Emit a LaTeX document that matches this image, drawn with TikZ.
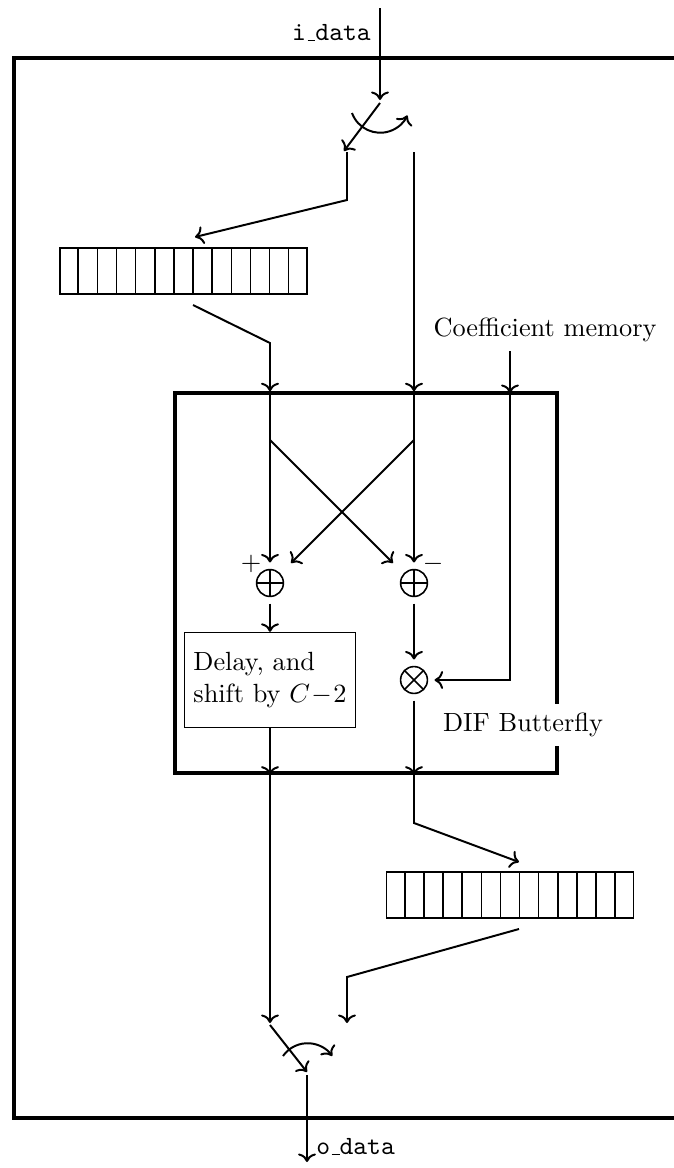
\documentclass[tikz,border=0pt]{standalone}
\usepackage{amsmath}
\usepackage{tikz}
\usetikzlibrary{
  arrows.meta, % for the To arrow tip
  calc, % to split the registers into cells
}
% short underscore for the port names
\newcommand{\usc}{\kern.06em\vbox{\hrule width.3em}}
\tikzset{
  conn/.style={ % style for the connections
    -{To}, % curved barb arrow tip
    line width=0.75pt,
  },
  stageframe/.style={ % frame around the whole stage, open to the right
    line width=1.7pt,
  },
  bflybox/.style={ % frame around the butterfly
    rectangle,draw,line width=1.3pt,
    inner sep=0pt,
    minimum width=145.2pt, minimum height=144.4pt,
  },
  reg/.style={ % shift register, split into cells afterwards
    rectangle,draw,semithick,
    inner sep=0pt, % no padding, the size is fixed
    minimum width=93.9pt, minimum height=17.5pt,
  },
  op/.style={ % circle of the adders and the multiplier
    circle,draw,semithick,
    minimum size=10.2pt, inner sep=0pt,
    outer sep=2.7pt, % gap between the arrow tips and the circle
  },
  adder/.style={ % circle with a plus
    op,
    path picture={\draw[semithick] (path picture bounding box.north) -- (path picture bounding box.south)
      (path picture bounding box.west) -- (path picture bounding box.east);},
  },
  mult/.style={ % circle with a cross
    op,
    path picture={\draw[semithick] (path picture bounding box.north west) -- (path picture bounding box.south east)
      (path picture bounding box.north east) -- (path picture bounding box.south west);},
  },
  delaybox/.style={ % delay block
    rectangle,draw,semithick,
    align=left,
    inner xsep=3.4pt, minimum height=36pt,
  },
  port/.style={ % input/output names
    font=\ttfamily,
  },
}
\begin{document}
\begin{tikzpicture}[x=0.38pt,y=-0.38pt]
  \useasboundingbox (0,0) rectangle (673,1168);
  \draw[stageframe] (700,58) -- (14,58) -- (14,1118) -- (700,1118);

  % input and first switch
  \coordinate (din) at (380,8);
  \coordinate (sw1) at (380,100);
  \node[port,left] (ilabel) at (380,33) {i\usc data};
  \draw[conn] (din) -- (sw1);
  \coordinate (sw1a) at (380,103);
  \coordinate (sw1b) at (344,151);
  \draw[conn] (sw1a) -- (sw1b);
  \coordinate (sw1arc) at (352,113);
  \draw[conn] (sw1arc) arc[start angle=200,end angle=335,radius=11.4pt];

  % left branch through the first register
  \coordinate (l0) at (347,152);
  \coordinate (l1) at (347,200);
  \coordinate (reg1in) at (195,237);
  \draw[conn] (l0) -- (l1) -- (reg1in);
  \node[reg] (reg1) at (183.5,271) {};
  \coordinate (reg1out) at (193,305);
  \coordinate (l2) at (270,343);

  % right branch
  \coordinate (r0) at (414,152);

  % butterfly
  \node[bflybox] (bfly) at (366,583) {};
  \coordinate (bflyA) at (bfly.north -| l2);
  \coordinate (bflyB) at (bfly.north -| r0);
  \coordinate (bflyC) at (510,393);
  \draw[conn] (reg1out) -- (l2) -- (bflyA);
  \draw[conn] (r0) -- (bflyB);

  \node (coef) at (545,330) {Coefficient memory};
  \draw[conn] (coef.south -| bflyC) -- (bflyC);

  \node[adder] (add1) at (270,583) {};
  \node[adder] (add2) at (414,583) {};
  \node (plus) at (251,564) {$+$};
  \node (minus) at (433,564) {$-$};
  \coordinate (x1) at (270,440);
  \coordinate (x2) at (414,440);
  \coordinate (x1end) at (393,563);
  \coordinate (x2end) at (291,563);
  \draw[conn] (bflyA) -- (add1);
  \draw[conn] (bflyB) -- (add2);
  \draw[conn] (x1) -- (x1end);
  \draw[conn] (x2) -- (x2end);

  \node[delaybox] (delay) at (270,680) {Delay, and\\shift by $C\!-\!2$};
  \node[mult] (mul) at (414,680) {};
  \draw[conn] (add1) -- (delay);
  \draw[conn] (add2) -- (mul);
  \draw[conn] (bflyC) |- (mul);

  \coordinate (bflyD) at (bfly.south -| l2);
  \coordinate (bflyE) at (bfly.south -| r0);
  \draw[conn] (delay) -- (bflyD);
  \draw[conn] (mul) -- (bflyE);
  \node[fill=white] (bflylabel) at (523,725) {DIF Butterfly};

  % second register
  \coordinate (r1) at (414,823);
  \coordinate (reg2in) at (519,862);
  \draw[conn] (bflyE) -- (r1) -- (reg2in);
  \node[reg] (reg2) at (510,895) {};
  \coordinate (reg2out) at (519,929);
  \coordinate (r2) at (347,977);
  \coordinate (sw2b) at (347,1023);
  \draw[conn] (reg2out) -- (r2) -- (sw2b);

  % cells of both registers
  \foreach \r in {reg1,reg2}
    \foreach \i in {1,...,12}
      \draw[semithick] ($(\r.north west)!\i/13!(\r.north east)$) -- ($(\r.south west)!\i/13!(\r.south east)$);

  % second switch and output
  \coordinate (sw2a) at (270,1023);
  \draw[conn] (bflyD) -- (sw2a);
  \coordinate (sw2c) at (270,1025);
  \coordinate (sw2d) at (307,1072);
  \draw[conn] (sw2c) -- (sw2d);
  \coordinate (sw2arc) at (283,1056);
  \draw[conn] (sw2arc) arc[start angle=145,end angle=35,radius=11.4pt];
  \coordinate (sw2e) at (307,1075);
  \coordinate (dout) at (307,1162);
  \draw[conn] (sw2e) -- (dout);
  \node[port,right] (olabel) at (307,1147) {o\usc data};
\end{tikzpicture}
\end{document}
